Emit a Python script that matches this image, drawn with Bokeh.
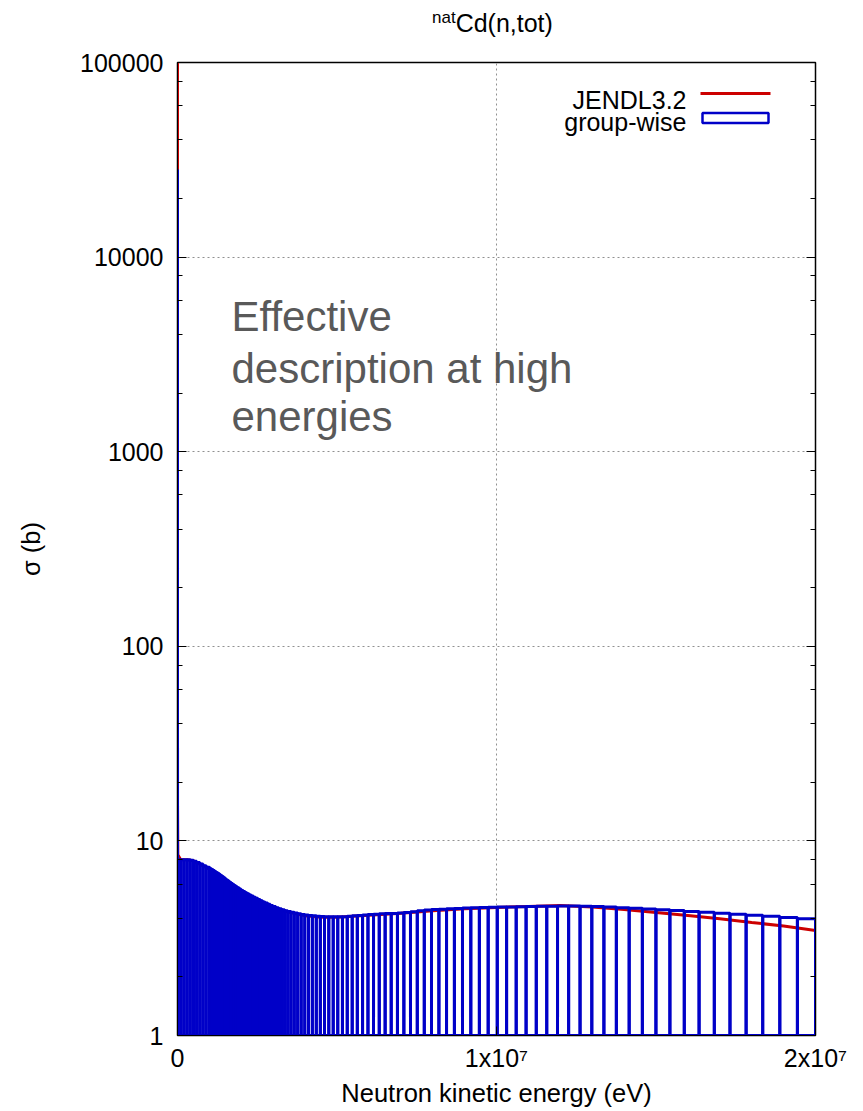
from bokeh.plotting import figure
from bokeh.layouts import column
from bokeh.models import (Range1d, FixedTicker, LogAxis, Label, Div,
                          BoxAnnotation, CustomJSTickFormatter, LogTicker)
from bokeh.embed import file_html
from bokeh.resources import INLINE

# natCd total cross section, JENDL-3.2 pointwise data (eV, barn)
jendl_energy_eV = [1e-5, 1e-4, 1e-3, 0.01, 0.0253, 0.1, 0.178, 0.3, 1.0, 10.0,
                   100.0, 1e3, 1e4, 1e5, 3e5, 5e5, 7e5, 1e6, 1.5e6, 2e6, 2.5e6,
                   3e6, 3.5e6, 4e6, 4.5e6, 5e6, 6e6, 7e6, 8e6, 9e6, 1e7, 1.1e7,
                   1.2e7, 1.3e7, 1.4e7, 1.5e7, 1.6e7, 1.7e7, 1.8e7, 1.9e7, 2e7]
jendl_sigma_b = [124000, 39000, 12400, 3900, 2500, 3000, 7200, 900, 150, 30,
                 20, 15, 8.5, 8.0, 8.0, 7.9, 7.6, 7.15, 6.2, 5.5, 4.95,
                 4.55, 4.3, 4.12, 4.05, 4.05, 4.15, 4.25, 4.38, 4.48, 4.55, 4.6,
                 4.65, 4.58, 4.44, 4.29, 4.14, 3.98, 3.81, 3.65, 3.46]

# group structure: coarse groups below 1 MeV, then 80 equal-lethargy
# groups per decade up to 20 MeV
coarse_edges_eV = [1e-5, 0.5, 10.0, 1e3, 1e5, 2e5, 3e5, 4e5, 5e5, 6e5, 7e5,
                   8e5, 9e5]
groups_per_decade = 80
n_fine_groups = 104
upper_edge_eV = 2e7

# group-wise cross section (barn), ascending energy
group_sigma_b = [
    28000, 250, 30, 8.0, 8.0, 8.0, 8.0, 7.95, 7.85, 7.75, 7.6, 7.45, 7.33,
    7.25, 7.2, 7.15, 7.1, 7.05, 6.99, 6.93, 6.87,
    6.81, 6.74, 6.67, 6.6, 6.52, 6.44, 6.36, 6.28,
    6.2, 6.12, 6.04, 5.96, 5.88, 5.8, 5.72, 5.64,
    5.56, 5.49, 5.42, 5.35, 5.28, 5.21, 5.14, 5.07,
    5.0, 4.93, 4.86, 4.79, 4.72, 4.66, 4.6, 4.54,
    4.48, 4.43, 4.38, 4.34, 4.3, 4.26, 4.22, 4.19,
    4.16, 4.14, 4.12, 4.1, 4.09, 4.08, 4.07, 4.07,
    4.07, 4.08, 4.1, 4.12, 4.14, 4.16, 4.18, 4.2,
    4.22, 4.23, 4.24, 4.26, 4.29, 4.33, 4.37, 4.41,
    4.44, 4.46, 4.48, 4.5, 4.52, 4.53, 4.55, 4.56,
    4.57, 4.58, 4.59, 4.6, 4.61, 4.62, 4.63, 4.63,
    4.62, 4.6, 4.57, 4.54, 4.51, 4.47, 4.43, 4.39,
    4.34, 4.3, 4.25, 4.2, 4.15, 4.1, 4.04, 3.98,
]

x_ticks = [0, 1e7, 2e7]
x_tick_labels = ["0", "1x10\u2077", "2x10\u2077"]

fine_edges_eV = [upper_edge_eV * 10 ** (-(n_fine_groups - k) / groups_per_decade)
                 for k in range(n_fine_groups + 1)]
edges_eV = coarse_edges_eV + fine_edges_eV

FONT = "Liberation Sans"
RED = "#cc0000"
BLUE = "#0000c8"
HEADER_H = 40

p = figure(width=863, height=1111 - HEADER_H, x_range=Range1d(0, 2e7),
           y_range=Range1d(1, 1e5), y_axis_type="log",
           output_backend="svg", toolbar_location=None,
           min_border_left=177, min_border_right=48,
           min_border_top=62 - HEADER_H, min_border_bottom=76)
p.outline_line_color = "black"
p.outline_line_width = 1.5
p.background_fill_color = "white"

p.line(jendl_energy_eV, jendl_sigma_b, line_color=RED, line_width=3)
p.quad(left=edges_eV[:-1], right=edges_eV[1:], bottom=1, top=group_sigma_b,
       fill_alpha=0, line_color=BLUE, line_width=3)

# axes
xax = p.xaxis[0]
xax.ticker = FixedTicker(ticks=x_ticks)
xax.major_label_overrides = {t: s for t, s in zip(x_ticks, x_tick_labels)}
xax.axis_label = "Neutron kinetic energy (eV)"
yax = p.yaxis[0]
yax.ticker = LogTicker()
yax.formatter = CustomJSTickFormatter(code="return Math.round(tick).toString();")
yax.axis_label = "\u03c3 (b)"

for ax in (xax, yax):
    ax.major_tick_in = 9
    ax.major_tick_out = 0
    ax.minor_tick_in = 5
    ax.minor_tick_out = 0
    ax.axis_line_color = "black"
    ax.major_tick_line_color = "black"
    ax.minor_tick_line_color = "black"
    ax.major_label_text_font = FONT
    ax.major_label_text_font_size = "25px"
    ax.major_label_text_color = "black"
    ax.axis_label_text_font = FONT
    ax.axis_label_text_font_size = "25.5px"
    ax.axis_label_text_font_style = "normal"
    ax.axis_label_text_color = "black"
xax.major_label_standoff = 8
xax.axis_label_standoff = 4
yax.major_label_standoff = 14
yax.axis_label_standoff = 32

# mirrored ticks on the right edge, without labels
blank = CustomJSTickFormatter(code="return '';")
rax = LogAxis(ticker=LogTicker(), formatter=blank, major_tick_in=9,
              major_tick_out=0, minor_tick_in=5, minor_tick_out=0,
              major_label_standoff=0, axis_line_color="black")
p.add_layout(rax, "right")

p.grid.grid_line_color = "#909090"
p.grid.grid_line_dash = "2 3"
p.grid.grid_line_width = 1
p.xgrid.ticker = FixedTicker(ticks=x_ticks)

# key
for txt, yb in (("JENDL3.2", 99 - HEADER_H), ("group-wise", 121 - HEADER_H)):
    p.add_layout(Label(x=686, y=yb, x_units="canvas", y_units="canvas", text=txt,
                       text_font=FONT, text_font_size="25px", text_color="black",
                       text_align="right", text_baseline="alphabetic"))
p.add_layout(BoxAnnotation(left=700, right=770, top=91.5 - HEADER_H,
                           bottom=94.5 - HEADER_H,
                           left_units="canvas", right_units="canvas",
                           top_units="canvas", bottom_units="canvas",
                           fill_color=RED, fill_alpha=1, line_alpha=0))
p.add_layout(BoxAnnotation(left=702, right=768, top=112.5 - HEADER_H,
                           bottom=122.5 - HEADER_H,
                           left_units="canvas", right_units="canvas",
                           top_units="canvas", bottom_units="canvas",
                           fill_color="white", fill_alpha=1,
                           line_color=BLUE, line_width=2.5, line_alpha=1))

# annotation text
for txt, yb in (("Effective", 316), ("description at high", 368), ("energies", 416)):
    p.add_layout(Label(x=231, y=yb - HEADER_H, x_units="canvas", y_units="canvas",
                       text=txt, text_font=FONT, text_font_size="42px",
                       text_color="#595959", text_baseline="alphabetic"))

# title: "nat" as a raised prefix of Cd(n,tot)
title = Div(
    text=('<div style="position:relative;width:863px;height:%dpx;'
          'font-family:\'Liberation Sans\',Arial,sans-serif;color:black;">'
          '<span style="position:absolute;left:432px;top:11px;font-size:25px;'
          'line-height:25px;white-space:nowrap;">'
          '<span style="position:relative;top:-9px;font-size:17px;">nat</span>'
          'Cd(n,tot)</span></div>') % HEADER_H,
    width=863, height=HEADER_H, margin=0)

layout = column(title, p, spacing=0)
open("out.html", "w").write(file_html(layout, INLINE))
